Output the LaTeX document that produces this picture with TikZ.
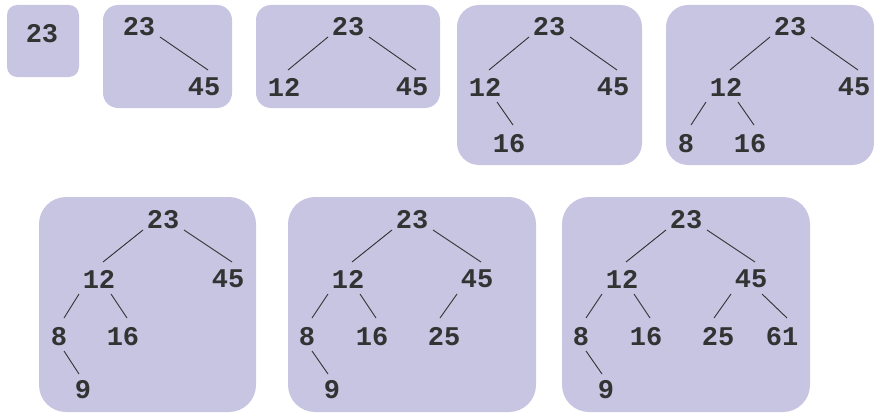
\documentclass[tikz,border=0pt]{standalone}
\usepackage{fontspec}
\setmonofont{Liberation Mono}
\definecolor{boxfill}{HTML}{C8C5E2}
\definecolor{ink}{HTML}{333333}
\tikzset{
  panel/.style={fill=boxfill, draw=none},
  num/.style={font=\ttfamily\bfseries\fontsize{27}{30}\selectfont, text=ink, inner sep=0pt, anchor=center},
  edge/.style={draw=ink, line width=0.9pt}
}
\newcommand\E[6]{\draw[edge] ([shift={(#3,#4)}]#1.center) -- ([shift={(#5,#6)}]#2.center);}
% left child of root, right child of root
\newcommand\RL[2]{\E{#1}{#2}{-20}{10}{4}{-17}}
\newcommand\RR[2]{\E{#1}{#2}{21}{10}{4}{-17}}
% second level
\newcommand\SL[2]{\E{#1}{#2}{-20}{15}{5}{-19}}
\newcommand\SR[2]{\E{#1}{#2}{12}{15}{4}{-19}}
\newcommand\SLb[2]{\E{#1}{#2}{-20}{15}{-4}{-19}}
\newcommand\SRb[2]{\E{#1}{#2}{11}{15}{5}{-19}}
\newcommand\TR[2]{\E{#1}{#2}{5}{14}{-4}{-16}}
\begin{document}
\begin{tikzpicture}[x=1pt,y=-1pt]
\useasboundingbox (0,0) rectangle (874,412);
% panels
\fill[panel, rounded corners=10pt] (7,5) rectangle (79,77);
\fill[panel, rounded corners=15pt] (103,5) rectangle (232,108);
\fill[panel, rounded corners=15pt] (256,5) rectangle (440,108);
\fill[panel, rounded corners=22pt] (457,5) rectangle (642,165);
\fill[panel, rounded corners=22pt] (666,5) rectangle (874,165);
\fill[panel, rounded corners=27pt] (39,197) rectangle (256,412);
\fill[panel, rounded corners=27pt] (288,197) rectangle (536,412);
\fill[panel, rounded corners=27pt] (562,197) rectangle (810,412);
% tree 1
\node[num] (a1) at (42,34) {23};
% tree 2
\node[num] (b1) at (139,27) {23};
\node[num] (b2) at (204,87) {45};
\RR{b1}{b2}
% tree 3
\node[num] (c1) at (348,27) {23};
\node[num] (c2) at (284,87) {12};
\node[num] (c3) at (412,87) {45};
\RL{c1}{c2} \RR{c1}{c3}
% tree 4
\node[num] (d1) at (549,27) {23};
\node[num] (d2) at (485,87) {12};
\node[num] (d3) at (613,87) {45};
\node[num] (d4) at (509,144) {16};
\RL{d1}{d2} \RR{d1}{d3} \SR{d2}{d4}
% tree 5
\node[num] (e1) at (790,27) {23};
\node[num] (e2) at (726,87) {12};
\node[num] (e3) at (854,87) {45};
\node[num] (e4) at (686,144) {8};
\node[num] (e5) at (750,144) {16};
\RL{e1}{e2} \RR{e1}{e3} \SL{e2}{e4} \SR{e2}{e5}
% tree 6
\node[num] (f1) at (163,220) {23};
\node[num] (f2) at (99,279) {12};
\node[num] (f3) at (228,279) {45};
\node[num] (f4) at (59,337) {8};
\node[num] (f5) at (123,337) {16};
\node[num] (f6) at (83,390) {9};
\RL{f1}{f2} \RR{f1}{f3} \SL{f2}{f4} \SR{f2}{f5} \TR{f4}{f6}
% tree 7
\node[num] (g1) at (412,220) {23};
\node[num] (g2) at (348,279) {12};
\node[num] (g3) at (477,279) {45};
\node[num] (g4) at (307,337) {8};
\node[num] (g5) at (372,337) {16};
\node[num] (g6) at (444,337) {25};
\node[num] (g7) at (332,390) {9};
\RL{g1}{g2} \RR{g1}{g3} \SL{g2}{g4} \SR{g2}{g5} \SLb{g3}{g6} \TR{g4}{g7}
% tree 8
\node[num] (h1) at (686,220) {23};
\node[num] (h2) at (622,279) {12};
\node[num] (h3) at (751,279) {45};
\node[num] (h4) at (581,337) {8};
\node[num] (h5) at (646,337) {16};
\node[num] (h6) at (718,337) {25};
\node[num] (h7) at (782,337) {61};
\node[num] (h8) at (606,390) {9};
\RL{h1}{h2} \RR{h1}{h3} \SL{h2}{h4} \SR{h2}{h5} \SLb{h3}{h6} \SRb{h3}{h7} \TR{h4}{h8}
\end{tikzpicture}
\end{document}
